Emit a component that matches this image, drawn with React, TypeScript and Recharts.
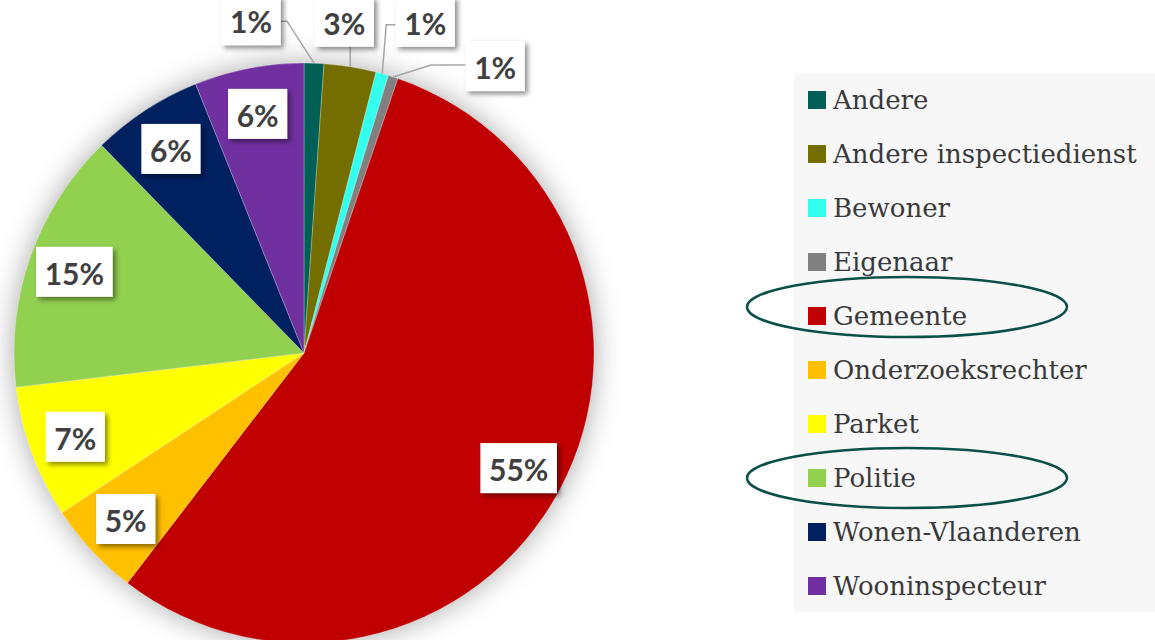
import { PieChart, Pie, Cell, Legend } from 'recharts';

const names = [
  'Andere',
  'Andere inspectiedienst',
  'Bewoner',
  'Eigenaar',
  'Gemeente',
  'Onderzoeksrechter',
  'Parket',
  'Politie',
  'Wonen-Vlaanderen',
  'Wooninspecteur',
];
const values = [1.1, 2.9, 0.7, 0.55, 55.2, 5.3, 7.4, 14.6, 6.2, 6.1];
const colors = [
  '#006058', '#746e00', '#33ffee', '#808080', '#c00000',
  '#ffc000', '#ffff00', '#92d050', '#002060', '#7030a0',
];
const highlighted = ['Gemeente', 'Politie'];

const data = names.map((name, i) => ({ name, value: values[i] }));

// small slices get their label outside, with a leader line
const outside: Record<string, { box: [number, number]; elbow: [number, number] }> = {
  Andere: { box: [-63, -43], elbow: [-27, -42] },
  'Andere inspectiedienst': { box: [-6, -45], elbow: [0, -19] },
  Bewoner: { box: [43, -52], elbow: [4, -49] },
  Eigenaar: { box: [102, -11], elbow: [38, -12] },
};
// vertical nudge of the ellipse against its legend row
const ellipseDy: Record<string, number> = { Gemeente: -9, Politie: 0 };

const RAD = Math.PI / 180;
const FS = 30;
const ROW = 54;

const PctLabel = (props: any) => {
  const { cx, cy, midAngle, outerRadius, percent, name } = props;
  const txt = `${Math.round(percent * 100)}%`;
  const w = ((txt.length - 1) * 0.58 + 0.86) * FS + 16;
  const h = 50;
  const cos = Math.cos(-midAngle * RAD);
  const sin = Math.sin(-midAngle * RAD);
  const o = outside[name];
  let bx: number, by: number;
  let line = null;
  if (o) {
    const px = cx + outerRadius * cos;
    const py = cy + outerRadius * sin;
    bx = px + o.box[0];
    by = py + o.box[1];
    const ex = px + o.elbow[0];
    const ey = py + o.elbow[1];
    let ax = ex, ay = by + h / 2;
    if (ex < bx - w / 2) { ax = bx - w / 2; ay = ey; }
    else if (ex > bx + w / 2) { ax = bx + w / 2; ay = ey; }
    line = (
      <polyline points={`${px},${py} ${ex},${ey} ${ax},${ay}`}
        fill="none" stroke="#a6a6a6" strokeWidth={1.5} />
    );
  } else {
    const r = outerRadius * 0.84;
    bx = cx + r * cos;
    by = cy + r * sin;
  }
  return (
    <g>
      {line}
      <rect x={bx - w / 2} y={by - h / 2} width={w} height={h} fill="#fff" filter="url(#lblShadow)" />
      <text x={bx} y={by + 1} textAnchor="middle" dominantBaseline="central"
        fontFamily="Lato, sans-serif" fontWeight={700} fontSize={FS} fill="#404040">
        {txt}
      </text>
    </g>
  );
};

const LegendBox = ({ payload }: any) => {
  const seen = new Set<string>();
  const items = (payload || []).filter((p: any) => {
    if (!names.includes(p.value) || seen.has(p.value)) return false;
    seen.add(p.value);
    return true;
  });
  return (
    <div style={{ position: 'relative', width: 361, height: 539, background: '#f7f7f7' }}>
      {items.map((p: any, i: number) => (
        <div key={p.value} style={{
          position: 'absolute', left: 14, top: 27 + i * ROW - 16, height: 32,
          display: 'flex', alignItems: 'center', whiteSpace: 'nowrap',
        }}>
          <span style={{ width: 18, height: 18, background: colors[names.indexOf(p.value)], display: 'inline-block', marginRight: 7 }} />
          <span style={{ fontFamily: '"DejaVu Serif", serif', fontSize: 26, color: '#3a3a3a' }}>{p.value}</span>
        </div>
      ))}
      <svg width={361} height={539} style={{ position: 'absolute', left: 0, top: 0, overflow: 'visible', pointerEvents: 'none' }}>
        {items.map((p: any, i: number) => highlighted.includes(p.value) ? (
          <ellipse key={p.value} cx={113} cy={27 + i * ROW + ellipseDy[p.value]} rx={160} ry={30}
            fill="none" stroke="#0b4f49" strokeWidth={2.5} />
        ) : null)}
      </svg>
    </div>
  );
};

export default function App() {
  return (
    <div style={{ position: 'absolute', left: 0, top: 0, width: 1155, height: 640, background: '#fff', overflow: 'hidden' }}>
      <style>{`.pie-shadow { filter: url(#pieBlur); }`}</style>
      <PieChart width={1155} height={640} margin={{ top: 0, right: 0, bottom: 0, left: 0 }}>
        <defs>
          <filter id="lblShadow" x="-30%" y="-30%" width="170%" height="170%">
            <feDropShadow dx={3} dy={3} stdDeviation={2.5} floodColor="#000" floodOpacity={0.45} />
          </filter>
          <filter id="pieBlur" x="-20%" y="-20%" width="140%" height="140%">
            <feGaussianBlur stdDeviation={10} />
          </filter>
        </defs>
        <Pie
          className="pie-shadow"
          data={data} dataKey="value" nameKey="name"
          cx={304} cy={353} outerRadius={290}
          startAngle={90} endAngle={-270}
          fill="#000" fillOpacity={0.35} stroke="none"
          legendType="none" label={false} labelLine={false}
          isAnimationActive={false}
        />
        <Pie
          data={data} dataKey="value" nameKey="name"
          cx={304} cy={353} outerRadius={290}
          startAngle={90} endAngle={-270}
          stroke="rgba(255,255,255,0.35)" strokeWidth={0.75}
          label={PctLabel} labelLine={false}
          isAnimationActive={false}
        >
          {data.map((d, i) => <Cell key={d.name} fill={colors[i]} />)}
        </Pie>
        <Legend
          layout="vertical" align="right" verticalAlign="top"
          content={<LegendBox />}
          wrapperStyle={{ position: 'absolute', left: 794, top: 73, width: 361, height: 539 }}
        />
      </PieChart>
    </div>
  );
}
